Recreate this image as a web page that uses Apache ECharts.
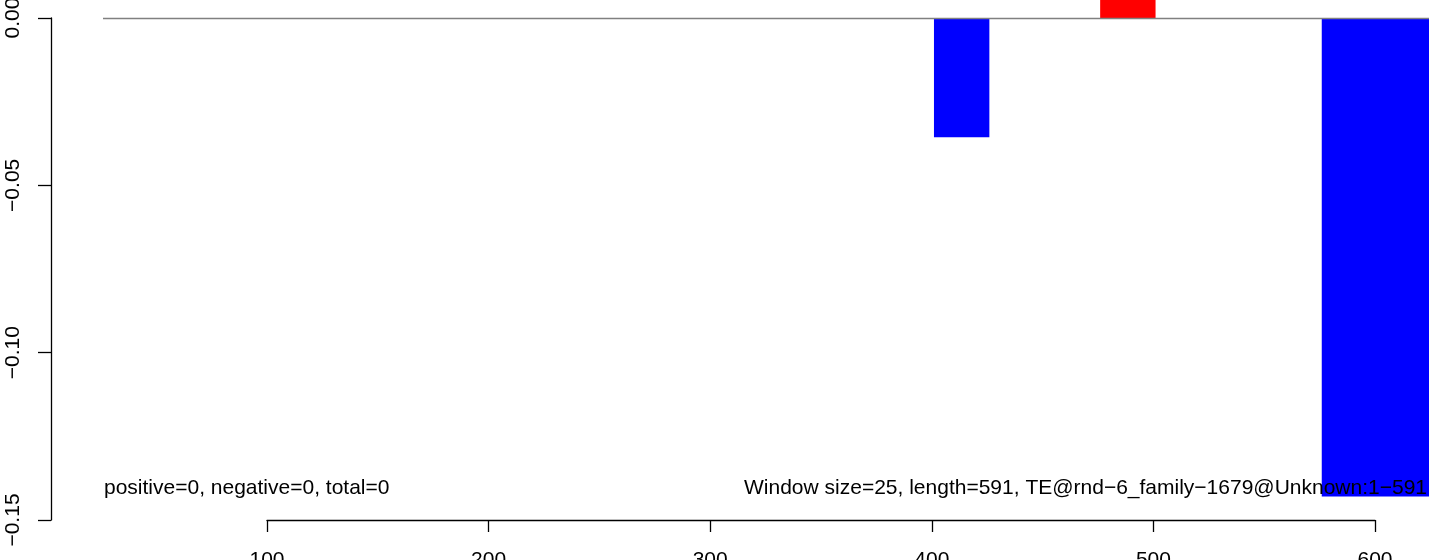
<!DOCTYPE html>
<html>
<head>
<meta charset="utf-8">
<script src="https://cdn.jsdelivr.net/npm/echarts@6/dist/echarts.min.js"></script>
<style>
html,body{margin:0;padding:0;background:#fff;}
#chart{width:1429px;height:560px;}
</style>
</head>
<body>
<div id="chart"></div>
<script>
// ---- data ----
const windowStart = [401, 476, 576];
const windowEnd   = [426, 501, 625];
const windowValue = [-0.0356, 0.02, -0.143];
const xTicks = [100, 200, 300, 400, 500, 600];
const yTicks = [-0.15, -0.10, -0.05, 0.00];
const leftNote = 'positive=0, negative=0, total=0';
const rightNote = 'Window size=25, length=591, TE@rnd\u22126_family\u22121679@Unknown:1\u2212591';

const FONT = '"Liberation Sans", Arial, Helvetica, sans-serif';
const FS = 21;
const chart = echarts.init(document.getElementById('chart'), null, {renderer: 'canvas'});

function fmtY(v) {
  const r = Math.round(v * 100) / 100;
  return (r < 0 ? '\u2212' : '') + Math.abs(r).toFixed(2);
}

function renderBar(params, api) {
  const x0 = api.value(0), x1 = api.value(1), v = api.value(2);
  const p0 = api.coord([x0, 0]);
  const p1 = api.coord([x1, v]);
  const cs = params.coordSys;
  const shape = echarts.graphic.clipRectByRect(
    {x: p0[0], y: Math.min(p0[1], p1[1]), width: p1[0] - p0[0], height: Math.abs(p1[1] - p0[1])},
    {x: cs.x, y: cs.y, width: cs.width, height: cs.height}
  );
  return shape && {type: 'rect', shape: shape, style: {fill: api.visual('color')}};
}

const barData = windowValue.map((v, i) => ({
  value: [windowStart[i], windowEnd[i], v],
  itemStyle: {color: v < 0 ? '#0000FF' : '#FF0000'}
}));

const axisLineStyle = {color: '#000', width: 1.3};

chart.setOption({
  animation: false,
  backgroundColor: '#fff',
  grid: [
    {left: 103, right: 0, top: 0, bottom: 40, outerBoundsMode: 'none', containLabel: false},
    {left: 51, width: 10, top: 18, bottom: 40, outerBoundsMode: 'none', containLabel: false},
    {left: 267, right: 54, top: 18, bottom: 40, outerBoundsMode: 'none', containLabel: false}
  ],
  xAxis: [
    {gridIndex: 0, type: 'value', min: 26, max: 624.4, show: false},
    {gridIndex: 1, type: 'value', min: 0, max: 1, show: false},
    {gridIndex: 2, type: 'value', min: 100, max: 600, position: 'bottom',
      axisLine: {show: true, lineStyle: axisLineStyle},
      axisTick: {show: true, length: 12, lineStyle: axisLineStyle, customValues: xTicks},
      axisLabel: {show: true, customValues: xTicks, margin: 30, color: '#000', fontSize: FS, fontFamily: FONT, hideOverlap: false},
      splitLine: {show: false}}
  ],
  yAxis: [
    {gridIndex: 0, type: 'value', min: -0.15, max: 0.0054, show: false},
    {gridIndex: 1, type: 'value', min: -0.15, max: 0, position: 'left',
      axisLine: {show: true, lineStyle: axisLineStyle},
      axisTick: {show: true, length: 13, lineStyle: axisLineStyle, customValues: yTicks},
      axisLabel: {show: true, customValues: yTicks, rotate: 90, margin: 27, color: '#000', fontSize: FS, fontFamily: FONT,
        formatter: fmtY, hideOverlap: false},
      splitLine: {show: false}},
    {gridIndex: 2, type: 'value', min: 0, max: 1, show: false}
  ],
  series: [
    {
      type: 'line', xAxisIndex: 0, yAxisIndex: 0, data: [], z: 1, silent: true,
      markLine: {symbol: ['none', 'none'], silent: true, label: {show: false},
        lineStyle: {color: '#808080', width: 1.3, type: 'solid'},
        data: [{yAxis: 0}]}
    },
    {
      type: 'custom', xAxisIndex: 0, yAxisIndex: 0, z: 3,
      renderItem: renderBar,
      encode: {x: [0, 1], y: 2},
      data: barData
    }
  ],
  graphic: [
    {type: 'text', left: 104, top: 478, z: 10,
      style: {text: leftNote, font: FS + 'px ' + FONT, fill: '#000'}},
    {type: 'text', right: 2, top: 478, z: 10,
      style: {text: rightNote, font: FS + 'px ' + FONT, fill: '#000'}}
  ]
});
</script>
</body>
</html>
